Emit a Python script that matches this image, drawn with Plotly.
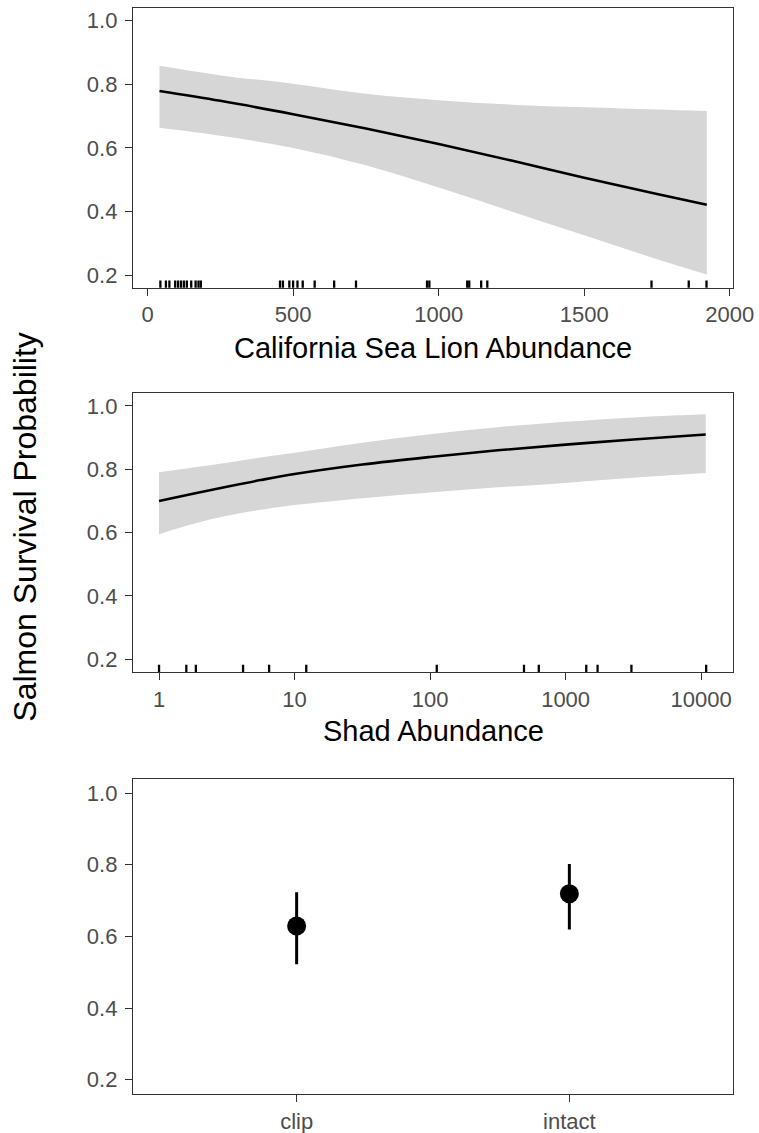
import plotly.graph_objects as go

# ---- Panel 1: California sea lion abundance ----
csl_x = [41, 250, 500, 750, 1000, 1250, 1500, 1750, 1921]
csl_fit = [0.779, 0.748, 0.706, 0.661, 0.612, 0.560, 0.506, 0.455, 0.421]
csl_hi = [0.858, 0.828, 0.802, 0.770, 0.750, 0.736, 0.728, 0.721, 0.716]
csl_lo = [0.663, 0.638, 0.600, 0.545, 0.475, 0.400, 0.325, 0.250, 0.202]
csl_rug = [44, 63, 75, 95, 105, 115, 125, 135, 150, 165, 175, 183,
           455, 465, 487, 500, 515, 533, 574, 641, 716, 960, 968,
           1098, 1105, 1146, 1167, 1731, 1859, 1920]

# ---- Panel 2: shad abundance (log scale) ----
shad_x = [1.0, 1.778, 3.162, 5.623, 10, 31.62, 100, 316.2, 1000, 3162, 10810]
shad_fit = [0.700, 0.723, 0.745, 0.766, 0.785, 0.815, 0.839, 0.860, 0.878, 0.894, 0.910]
shad_hi = [0.791, 0.806, 0.821, 0.837, 0.852, 0.884, 0.911, 0.933, 0.950, 0.964, 0.974]
shad_lo = [0.595, 0.627, 0.653, 0.672, 0.687, 0.709, 0.727, 0.743, 0.757, 0.773, 0.788]
shad_rug = [1, 1.59, 1.87, 4.17, 6.49, 12.2, 112, 493, 634, 1420, 1721, 3058, 10890]

# ---- Panel 3: clip status ----
clip_cats = ["clip", "intact"]
clip_est = [0.629, 0.719]
clip_hi = [0.723, 0.802]
clip_lo = [0.522, 0.619]

# ---- Axis labels ----
y_ticks = [0.2, 0.4, 0.6, 0.8, 1.0]
y_ticktext = ["0.2", "0.4", "0.6", "0.8", "1.0"]
csl_ticks = [0, 500, 1000, 1500, 2000]
shad_ticks = [1, 10, 100, 1000, 10000]
shad_ticktext = ["1", "10", "100", "1000", "10000"]

BAND = "#D6D6D6"
TICKCOL = "#4D4D4D"
FRAME = "#333333"
FONT = "Liberation Sans, Arial, sans-serif"

fig = go.Figure()


def add_band(xs, lo, hi, fit, xa, ya):
    fig.add_trace(go.Scatter(x=xs, y=lo, mode="lines", line=dict(width=0, shape="spline"),
                             hoverinfo="skip", showlegend=False, xaxis=xa, yaxis=ya))
    fig.add_trace(go.Scatter(x=xs, y=hi, mode="lines", line=dict(width=0, shape="spline"),
                             fill="tonexty", fillcolor=BAND,
                             hoverinfo="skip", showlegend=False, xaxis=xa, yaxis=ya))
    fig.add_trace(go.Scatter(x=xs, y=fit, mode="lines",
                             line=dict(color="black", width=2.6, shape="spline"),
                             showlegend=False, xaxis=xa, yaxis=ya))


add_band(csl_x, csl_lo, csl_hi, csl_fit, "x", "y")
add_band(shad_x, shad_lo, shad_hi, shad_fit, "x2", "y2")

# Panel 3
fig.add_trace(go.Scatter(
    x=[0, 1], y=clip_est, mode="markers",
    marker=dict(color="black", size=19),
    error_y=dict(type="data", symmetric=False,
                 array=[h - e for h, e in zip(clip_hi, clip_est)],
                 arrayminus=[e - l for e, l in zip(clip_est, clip_lo)],
                 color="black", thickness=3, width=0),
    showlegend=False, xaxis="x3", yaxis="y3"))

# Rugs
shapes = []
for v in csl_rug:
    shapes.append(dict(type="line", xref="x", yref="y domain", x0=v, x1=v, y0=0, y1=0.026,
                       line=dict(color="black", width=2.3)))
for v in shad_rug:
    shapes.append(dict(type="line", xref="x2", yref="y2 domain", x0=v, x1=v, y0=0, y1=0.026,
                       line=dict(color="black", width=2.3)))

axis_common = dict(showline=True, mirror=True, linecolor=FRAME, linewidth=1.3,
                   ticks="outside", ticklen=7, tickcolor=FRAME, tickwidth=1.3,
                   showgrid=False, zeroline=False, automargin=False,
                   tickfont=dict(family=FONT, size=22, color=TICKCOL))

yax = dict(axis_common, range=[0.16, 1.04], tickvals=y_ticks, ticktext=y_ticktext,
           ticklabelstandoff=3)

fig.update_layout(
    width=759, height=1133,
    margin=dict(l=133, r=26, t=8, b=39),
    plot_bgcolor="white", paper_bgcolor="white",
    shapes=shapes,
    xaxis=dict(axis_common, domain=[0, 1], anchor="y", range=[-50, 2011], tickvals=csl_ticks),
    yaxis=dict(yax, domain=[0.7424, 1.0], anchor="x"),
    xaxis2=dict(axis_common, domain=[0, 1], anchor="y2", type="log", range=[-0.192, 4.235],
                tickvals=shad_ticks, ticktext=shad_ticktext),
    yaxis2=dict(yax, domain=[0.3886, 0.6452], anchor="x2"),
    xaxis3=dict(axis_common, domain=[0, 1], anchor="y3", range=[-0.6, 1.6],
                tickvals=[0, 1], ticktext=clip_cats),
    yaxis3=dict(yax, domain=[0.0, 0.2903], anchor="x3"),
    annotations=[
        dict(text="California Sea Lion Abundance", xref="paper", yref="paper", x=0.5, y=0.687,
             showarrow=False, font=dict(family=FONT, size=29, color="black"), yanchor="middle"),
        dict(text="Shad Abundance", xref="paper", yref="paper", x=0.5, y=0.334,
             showarrow=False, font=dict(family=FONT, size=29, color="black"), yanchor="middle"),
        dict(text="Salmon Survival Probability", xref="paper", yref="paper",
             x=(25 - 133) / 601, y=0.5226, textangle=-90, showarrow=False,
             font=dict(family=FONT, size=32, color="black"), xanchor="center", yanchor="middle"),
    ],
)

fig.write_html("out.html")
